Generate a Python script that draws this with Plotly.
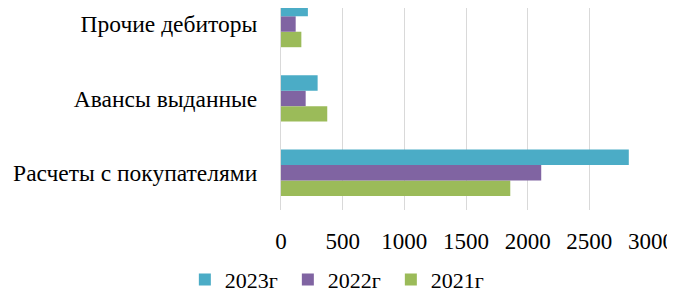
import plotly.graph_objects as go

categories = ["Расчеты с покупателями", "Авансы выданные", "Прочие дебиторы"]
series_names = ["2021г", "2022г", "2023г"]
values_2021 = [1859, 375, 165]
values_2022 = [2110, 200, 119]
values_2023 = [2820, 297, 218]
colors = ["#9BBB59", "#8064A2", "#4BACC6"]
x_ticks = [0, 500, 1000, 1500, 2000, 2500, 3000]

fig = go.Figure()
for name, vals, col in zip(series_names, [values_2021, values_2022, values_2023], colors):
    fig.add_trace(go.Bar(y=categories, x=vals, name=name, orientation="h",
                         marker=dict(color=col, line=dict(width=0))))

font = dict(family="Liberation Serif", size=23, color="#000000")
fig.update_layout(
    width=675, height=297,
    margin=dict(l=273, r=32, t=0, b=95),
    paper_bgcolor="white", plot_bgcolor="white",
    barmode="group", bargap=0.376, bargroupgap=0,
    font=font,
    showlegend=True,
    legend=dict(orientation="h", traceorder="reversed", xref="container", yref="container",
                x=0.262, xanchor="left", y=0.085, yanchor="middle",
                font=dict(family="Liberation Serif", size=22, color="#000"),
                entrywidth=58, entrywidthmode="pixels"),
    xaxis=dict(range=[0, 3000], tickvals=x_ticks, showgrid=True, gridcolor="#D9D9D9",
               gridwidth=1, zeroline=False, showline=False, ticks="", automargin=False,
               ticklabelstandoff=15, tickfont=font),
    yaxis=dict(range=[-0.5, 2.215], showgrid=False, zeroline=False, showline=True,
               linecolor="#D9D9D9", linewidth=1, ticks="", ticklabelstandoff=18,
               automargin=False, tickfont=dict(family="Liberation Serif", size=23.5, color="#000")),
)
fig.write_html("out.html")
